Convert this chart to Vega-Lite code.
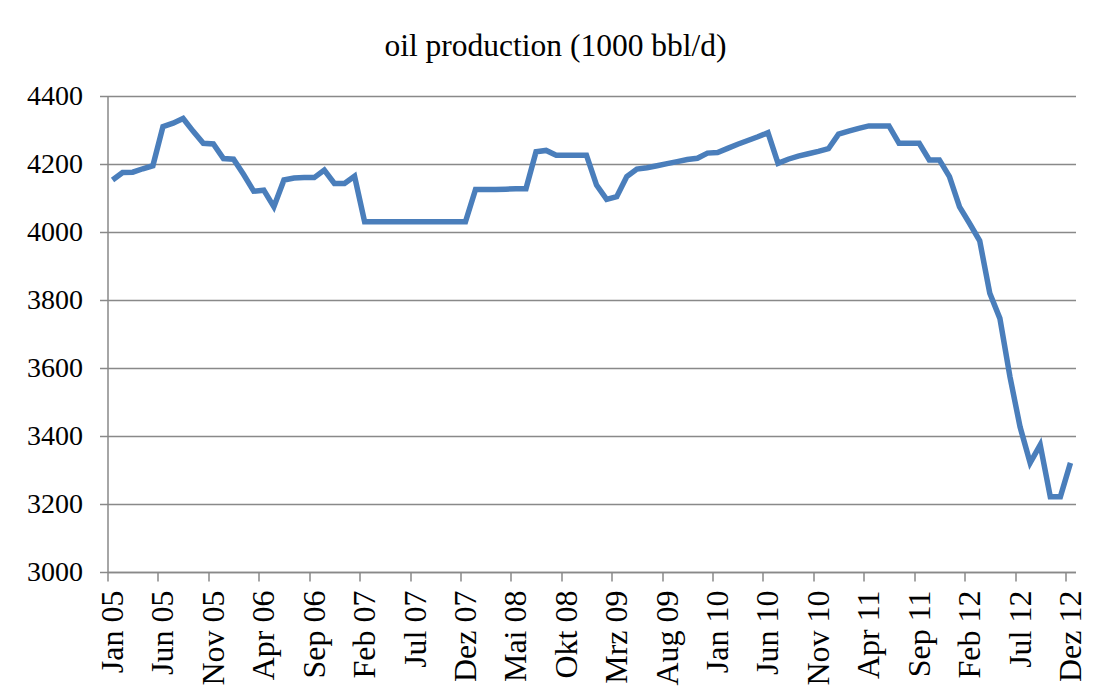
{
  "$schema": "https://vega.github.io/schema/vega-lite/v6.json",
  "width": 968,
  "height": 476,
  "autosize": {"type": "none"},
  "padding": {"left": 107.5, "top": 96, "right": 17.5, "bottom": 128},
  "background": "white",
  "title": {
    "text": "oil production (1000 bbl/d)",
    "font": "Liberation Serif",
    "fontSize": 31.5,
    "fontWeight": "normal",
    "color": "black",
    "anchor": "middle",
    "dx": -36,
    "dy": 45,
    "offset": 33,
    "baseline": "bottom"
  },
  "config": {"view": {"stroke": null}},
  "data": {
    "values": [
      {"month": "Jan 05", "production": 4153},
      {"month": "Feb 05", "production": 4175},
      {"month": "Mrz 05", "production": 4176},
      {"month": "Apr 05", "production": 4186},
      {"month": "Mai 05", "production": 4195},
      {"month": "Jun 05", "production": 4310},
      {"month": "Jul 05", "production": 4320},
      {"month": "Aug 05", "production": 4334},
      {"month": "Sep 05", "production": 4296},
      {"month": "Okt 05", "production": 4261},
      {"month": "Nov 05", "production": 4259},
      {"month": "Dez 05", "production": 4216},
      {"month": "Jan 06", "production": 4214},
      {"month": "Feb 06", "production": 4169},
      {"month": "Mrz 06", "production": 4120},
      {"month": "Apr 06", "production": 4123},
      {"month": "Mai 06", "production": 4074},
      {"month": "Jun 06", "production": 4153},
      {"month": "Jul 06", "production": 4159},
      {"month": "Aug 06", "production": 4160},
      {"month": "Sep 06", "production": 4160},
      {"month": "Okt 06", "production": 4182},
      {"month": "Nov 06", "production": 4143},
      {"month": "Dez 06", "production": 4143},
      {"month": "Jan 07", "production": 4164},
      {"month": "Feb 07", "production": 4030},
      {"month": "Mrz 07", "production": 4030},
      {"month": "Apr 07", "production": 4030},
      {"month": "Mai 07", "production": 4030},
      {"month": "Jun 07", "production": 4030},
      {"month": "Jul 07", "production": 4030},
      {"month": "Aug 07", "production": 4030},
      {"month": "Sep 07", "production": 4030},
      {"month": "Okt 07", "production": 4030},
      {"month": "Nov 07", "production": 4030},
      {"month": "Dez 07", "production": 4030},
      {"month": "Jan 08", "production": 4125},
      {"month": "Feb 08", "production": 4125},
      {"month": "Mrz 08", "production": 4125},
      {"month": "Apr 08", "production": 4126},
      {"month": "Mai 08", "production": 4127},
      {"month": "Jun 08", "production": 4127},
      {"month": "Jul 08", "production": 4236},
      {"month": "Aug 08", "production": 4240},
      {"month": "Sep 08", "production": 4226},
      {"month": "Okt 08", "production": 4226},
      {"month": "Nov 08", "production": 4226},
      {"month": "Dez 08", "production": 4226},
      {"month": "Jan 09", "production": 4138},
      {"month": "Feb 09", "production": 4096},
      {"month": "Mrz 09", "production": 4104},
      {"month": "Apr 09", "production": 4163},
      {"month": "Mai 09", "production": 4185},
      {"month": "Jun 09", "production": 4189},
      {"month": "Jul 09", "production": 4195},
      {"month": "Aug 09", "production": 4201},
      {"month": "Sep 09", "production": 4207},
      {"month": "Okt 09", "production": 4213},
      {"month": "Nov 09", "production": 4217},
      {"month": "Dez 09", "production": 4232},
      {"month": "Jan 10", "production": 4234},
      {"month": "Feb 10", "production": 4246},
      {"month": "Mrz 10", "production": 4258},
      {"month": "Apr 10", "production": 4269},
      {"month": "Mai 10", "production": 4280},
      {"month": "Jun 10", "production": 4292},
      {"month": "Jul 10", "production": 4202},
      {"month": "Aug 10", "production": 4214},
      {"month": "Sep 10", "production": 4223},
      {"month": "Okt 10", "production": 4230},
      {"month": "Nov 10", "production": 4237},
      {"month": "Dez 10", "production": 4245},
      {"month": "Jan 11", "production": 4288},
      {"month": "Feb 11", "production": 4297},
      {"month": "Mrz 11", "production": 4305},
      {"month": "Apr 11", "production": 4312},
      {"month": "Mai 11", "production": 4312},
      {"month": "Jun 11", "production": 4312},
      {"month": "Jul 11", "production": 4261},
      {"month": "Aug 11", "production": 4261},
      {"month": "Sep 11", "production": 4261},
      {"month": "Okt 11", "production": 4212},
      {"month": "Nov 11", "production": 4212},
      {"month": "Dez 11", "production": 4163},
      {"month": "Jan 12", "production": 4074},
      {"month": "Feb 12", "production": 4025},
      {"month": "Mrz 12", "production": 3974},
      {"month": "Apr 12", "production": 3820},
      {"month": "Mai 12", "production": 3746},
      {"month": "Jun 12", "production": 3574},
      {"month": "Jul 12", "production": 3427},
      {"month": "Aug 12", "production": 3321},
      {"month": "Sep 12", "production": 3374},
      {"month": "Okt 12", "production": 3221},
      {"month": "Nov 12", "production": 3221},
      {"month": "Dez 12", "production": 3321}
    ]
  },
  "mark": {"type": "line", "color": "#4A7EBB", "strokeWidth": 5.5},
  "encoding": {
    "x": {
      "field": "month",
      "type": "ordinal",
      "sort": null,
      "scale": {"type": "point", "padding": 0.5},
      "axis": {
        "title": null,
        "values": ["Jan 05", "Jun 05", "Nov 05", "Apr 06", "Sep 06", "Feb 07", "Jul 07", "Dez 07", "Mai 08", "Okt 08", "Mrz 09", "Aug 09", "Jan 10", "Jun 10", "Nov 10", "Apr 11", "Sep 11", "Feb 12", "Jul 12", "Dez 12"],
        "labelAngle": 270,
        "labelAlign": "right",
        "labelBaseline": "middle",
        "labelFont": "Liberation Serif",
        "labelFontSize": 32,
        "labelColor": "black",
        "labelPadding": 9,
        "labelOverlap": false,
        "tickOffset": -5.04,
        "labelOffset": 5.04,
        "tickSize": 9,
        "tickWidth": 1.5,
        "tickColor": "#898989",
        "domainColor": "#898989",
        "domainWidth": 1.5,
        "grid": false
      }
    },
    "y": {
      "field": "production",
      "type": "quantitative",
      "scale": {"domain": [3000, 4400], "nice": false, "zero": false},
      "axis": {
        "title": null,
        "values": [3000, 3200, 3400, 3600, 3800, 4000, 4200, 4400],
        "format": "d",
        "labelFont": "Liberation Serif",
        "labelFontSize": 28,
        "labelColor": "black",
        "labelPadding": 17,
        "tickSize": 8,
        "tickWidth": 1.5,
        "tickColor": "#898989",
        "domainColor": "#898989",
        "domainWidth": 1.5,
        "grid": true,
        "gridColor": "#898989",
        "gridWidth": 1.5
      }
    }
  }
}
